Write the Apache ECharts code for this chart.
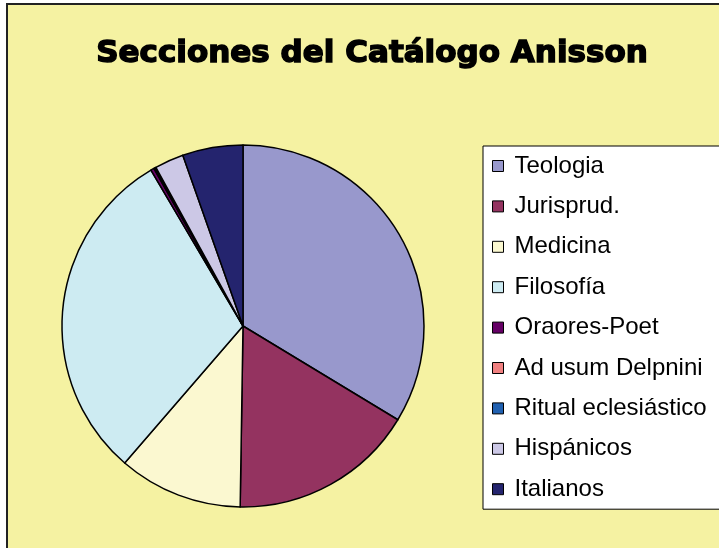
<!DOCTYPE html>
<html lang="es">
<head>
    <meta charset="UTF-8"/>
    <script src="https://cdn.jsdelivr.net/npm/echarts@6/dist/echarts.min.js"></script>
    <title>Secciones del Catálogo Anisson</title>
    <style>
        html, body{
            margin: 0;
            padding: 0;
            background: #fff;
        }
        #pie{
            width: 719px;
            height: 548px;
        }
    </style>
</head>
<body>
<div id="pie"></div>
<script type="text/javascript">
    // datos
    var categories = ['Teologia', 'Jurisprud.', 'Medicina', 'Filosofía', 'Oraores-Poet',
        'Ad usum Delpnini', 'Ritual eclesiástico', 'Hispánicos', 'Italianos'];
    var values = [337, 166, 111, 302, 3, 1, 1, 26, 54];
    var colors = ['#9898CC', '#943360', '#FBF8D0', '#CDEBF2', '#660066',
        '#F08080', '#2060B0', '#CCC8E6', '#24246E'];

    var echartData = [];
    for (var i = 0; i < categories.length; i++) {
        echartData.push({
            name: categories[i],
            value: values[i],
            itemStyle: {color: colors[i]}
        });
    }

    var myChart = echarts.init(document.getElementById('pie'));
    var option = {
        backgroundColor: '#ffffff',
        animation: false,
        graphic: [{
            type: 'rect',
            z: -10,
            shape: {x: 7, y: 4, width: 800, height: 700},
            style: {fill: '#F5F2A2', stroke: '#222', lineWidth: 2}
        }],
        title: {
            text: 'Secciones del Catálogo Anisson',
            left: 367,
            top: 33,
            textAlign: 'center',
            textStyle: {
                fontFamily: 'DejaVu Sans',
                fontWeight: 'bold',
                fontSize: 31,
                color: '#000',
                textBorderColor: '#000',
                textBorderWidth: 1.5
            }
        },
        legend: {
            orient: 'vertical',
            left: 483,
            top: 146,
            padding: [8, 40, 8, 9],
            itemGap: 16.4,
            itemWidth: 11,
            itemHeight: 11,
            icon: 'rect',
            backgroundColor: '#ffffff',
            borderColor: '#000',
            borderWidth: 1,
            borderRadius: 0,
            itemStyle: {borderColor: '#000', borderWidth: 1},
            textStyle: {
                fontFamily: 'Liberation Sans',
                fontSize: 24,
                lineHeight: 24,
                color: '#000',
                padding: [0, 0, 0, 6]
            },
            data: categories
        },
        series: [{
            type: 'pie',
            center: [243, 326],
            radius: 181,
            startAngle: 90,
            clockwise: true,
            minAngle: 0,
            avoidLabelOverlap: false,
            label: {show: false},
            labelLine: {show: false},
            itemStyle: {borderColor: '#000', borderWidth: 1.5},
            emphasis: {disabled: true},
            data: echartData
        }]
    };
    myChart.setOption(option);
</script>
</body>
</html>
